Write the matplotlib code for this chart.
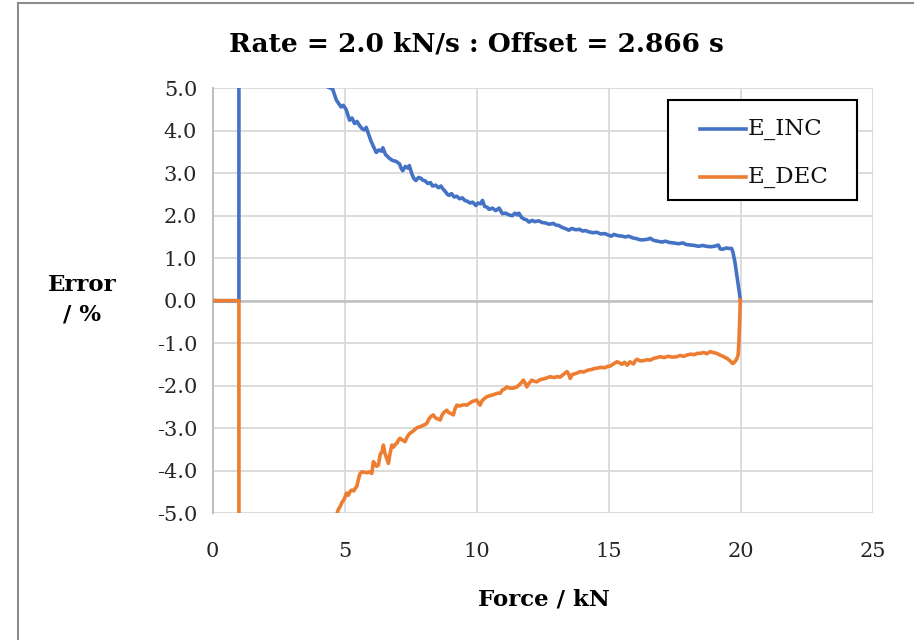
import matplotlib
matplotlib.use("Agg")
import matplotlib.pyplot as plt
from matplotlib.lines import Line2D
from matplotlib.patches import Rectangle

# ---- data ----
inc_force = [0.0, 1.0, 1.0, 2.0, 3.0, 4.0,
    4.37, 4.55, 4.62, 4.69, 4.78, 4.87, 4.95, 5.06, 5.12, 5.19, 5.28, 5.38, 5.47, 5.57,
    5.66, 5.75, 5.82, 5.88, 5.95, 6.00, 6.10, 6.20, 6.30, 6.40, 6.45, 6.55, 6.62, 6.70,
    6.82, 6.95, 7.08, 7.14, 7.20, 7.30, 7.40, 7.45, 7.55, 7.62, 7.70, 7.80, 7.90, 7.95,
    8.05, 8.15, 8.25, 8.33, 8.45, 8.55, 8.65, 8.71, 8.80, 8.90, 8.96, 9.05, 9.15, 9.25,
    9.35, 9.46, 9.55, 9.65, 9.75, 9.85, 9.97, 10.05, 10.15, 10.22, 10.30, 10.40, 10.47,
    10.60, 10.72, 10.85, 10.97, 11.10, 11.22, 11.35, 11.45, 11.55, 11.60, 11.70, 11.80,
    11.90, 11.98, 12.10, 12.20, 12.35, 12.48, 12.60, 12.75, 12.90, 13.00, 13.11, 13.25,
    13.35, 13.49, 13.60, 13.75, 13.90, 14.00, 14.12, 14.25, 14.40, 14.55, 14.70, 14.85,
    15.00, 15.10, 15.20, 15.35, 15.50, 15.63, 15.75, 15.90, 16.05, 16.15, 16.26, 16.40,
    16.50, 16.57, 16.70, 16.85, 17.01, 17.15, 17.30, 17.45, 17.64, 17.80, 17.95, 18.10,
    18.25, 18.40, 18.55, 18.70, 18.85, 19.00, 19.15, 19.22, 19.30, 19.45, 19.55, 19.65,
    19.70, 19.78, 19.85, 19.93, 19.98]
inc_error = [0.0, 0.0, 80.0, 11.5, 7.7, 5.8,
    5.03, 4.98, 4.85, 4.72, 4.64, 4.56, 4.60, 4.50, 4.38, 4.25, 4.30, 4.17, 4.22, 4.12,
    4.05, 4.02, 4.08, 3.97, 3.85, 3.76, 3.62, 3.49, 3.55, 3.52, 3.60, 3.44, 3.40, 3.35,
    3.30, 3.28, 3.22, 3.12, 3.06, 3.16, 3.12, 3.18, 2.98, 2.88, 2.83, 2.90, 2.88, 2.84,
    2.82, 2.76, 2.78, 2.70, 2.72, 2.66, 2.70, 2.64, 2.58, 2.50, 2.48, 2.52, 2.44, 2.46,
    2.40, 2.42, 2.36, 2.34, 2.30, 2.32, 2.24, 2.30, 2.28, 2.36, 2.22, 2.20, 2.15,
    2.18, 2.12, 2.18, 2.05, 2.06, 2.02, 2.00, 2.06, 2.02, 2.06, 1.96, 1.92,
    1.90, 1.85, 1.89, 1.86, 1.88, 1.84, 1.83, 1.80, 1.82, 1.78, 1.77, 1.72,
    1.70, 1.66, 1.70, 1.67, 1.68, 1.64, 1.65, 1.62, 1.60, 1.61, 1.57, 1.58,
    1.54, 1.52, 1.56, 1.53, 1.52, 1.50, 1.52, 1.48, 1.46, 1.44, 1.43, 1.44,
    1.45, 1.47, 1.42, 1.40, 1.38, 1.40, 1.37, 1.36, 1.34, 1.36, 1.32, 1.31,
    1.30, 1.28, 1.30, 1.28, 1.27, 1.28, 1.31, 1.22, 1.21, 1.24, 1.23, 1.23,
    1.15, 0.90, 0.60, 0.25, 0.04]

dec_force = [0.0, 1.0, 1.0, 2.0, 3.0, 4.0,
    4.70, 4.76, 4.83, 4.90, 4.98, 5.08, 5.15, 5.20, 5.27, 5.35, 5.40, 5.46, 5.52, 5.58,
    5.65, 5.75, 5.85, 5.95, 6.03, 6.09, 6.15, 6.22, 6.28, 6.35, 6.42, 6.47, 6.53, 6.60,
    6.66, 6.72, 6.79, 6.85, 6.92, 6.98, 7.04, 7.10, 7.18, 7.24, 7.29, 7.36, 7.42, 7.48,
    7.58, 7.68, 7.78, 7.86, 7.95, 8.04, 8.11, 8.20, 8.28, 8.36, 8.44, 8.52, 8.62, 8.70,
    8.78, 8.87, 8.95, 9.04, 9.12, 9.18, 9.25, 9.35, 9.45, 9.55, 9.63, 9.72, 9.82, 9.90,
    10.00, 10.06, 10.13, 10.20, 10.30, 10.39, 10.50, 10.60, 10.70, 10.77, 10.89, 10.98,
    11.06, 11.14, 11.25, 11.39, 11.52, 11.62, 11.70, 11.77, 11.85, 11.90, 11.98, 12.09,
    12.18, 12.28, 12.40, 12.55, 12.65, 12.78, 12.92, 13.05, 13.16, 13.28, 13.42, 13.48,
    13.54, 13.62, 13.72, 13.82, 13.92, 14.05, 14.20, 14.35, 14.45, 14.55, 14.70, 14.85,
    14.95, 15.06, 15.15, 15.23, 15.31, 15.40, 15.50, 15.60, 15.70, 15.80, 15.94, 16.00,
    16.07, 16.20, 16.35, 16.45, 16.57, 16.70, 16.82, 16.95, 17.10, 17.25, 17.40, 17.58,
    17.70, 17.85, 17.96, 18.10, 18.25, 18.35, 18.47, 18.60, 18.72, 18.84, 18.95, 19.08,
    19.22, 19.35, 19.48, 19.60, 19.69, 19.76, 19.84, 19.90, 19.93, 19.95, 19.97, 19.98]
dec_error = [0.0, 0.0, -80.0, -11.5, -7.7, -5.8,
    -5.04, -4.92, -4.85, -4.75, -4.68, -4.53, -4.58, -4.50, -4.46, -4.48, -4.42, -4.38, -4.22, -4.08,
    -4.03, -4.04, -4.05, -4.03, -4.07, -3.79, -3.85, -3.90, -3.87, -3.62, -3.55, -3.40, -3.60, -3.72,
    -3.83, -3.60, -3.40, -3.45, -3.38, -3.36, -3.28, -3.24, -3.28, -3.30, -3.32, -3.22, -3.16, -3.12,
    -3.08, -3.02, -2.98, -2.97, -2.94, -2.92, -2.89, -2.78, -2.72, -2.69, -2.76, -2.78, -2.81, -2.68,
    -2.62, -2.58, -2.64, -2.66, -2.69, -2.55, -2.46, -2.48, -2.46, -2.45, -2.46, -2.42, -2.38, -2.36,
    -2.34, -2.40, -2.46, -2.36, -2.30, -2.26, -2.24, -2.22, -2.20, -2.18, -2.18, -2.10,
    -2.08, -2.03, -2.06, -2.06, -2.03, -1.98, -1.92, -1.87, -1.96, -2.03, -1.95, -1.87,
    -1.90, -1.91, -1.86, -1.84, -1.82, -1.79, -1.81, -1.79, -1.80, -1.74, -1.67, -1.72,
    -1.83, -1.74, -1.72, -1.70, -1.67, -1.68, -1.64, -1.62, -1.60, -1.59, -1.57, -1.58,
    -1.55, -1.54, -1.50, -1.47, -1.44, -1.46, -1.50, -1.45, -1.52, -1.44, -1.49, -1.42,
    -1.38, -1.42, -1.41, -1.39, -1.40, -1.36, -1.34, -1.32, -1.34, -1.31, -1.33, -1.32,
    -1.29, -1.31, -1.28, -1.26, -1.27, -1.24, -1.24, -1.22, -1.25, -1.20, -1.22, -1.24,
    -1.28, -1.32, -1.36, -1.42, -1.48, -1.45, -1.38, -1.28, -0.95, -0.60, -0.25, 0.02]

x_ticks = [0, 5, 10, 15, 20, 25]
y_ticks = [-5.0, -4.0, -3.0, -2.0, -1.0, 0.0, 1.0, 2.0, 3.0, 4.0, 5.0]
title = "Rate = 2.0 kN/s : Offset = 2.866 s"
series_names = ["E_INC", "E_DEC"]

# ---- drawing ----
FONT = ["DejaVu Serif Condensed", "DejaVu Serif"]
plt.rcParams["font.family"] = FONT

W, H = 914, 640
fig = plt.figure(figsize=(W / 100, H / 100), dpi=100)
ax = fig.add_axes([0.2325, 0.1984, 0.7225, 0.6636])

blue = "#4472C4"
orange = "#ED7D31"
colors = [blue, orange]
ax.plot(inc_force, inc_error, color=blue, lw=2.6, label=series_names[0], zorder=3,
        solid_joinstyle="round")
ax.plot(dec_force, dec_error, color=orange, lw=2.6, label=series_names[1], zorder=4,
        solid_joinstyle="round")

ax.set_xlim(0, 25)
ax.set_ylim(-5, 5)
ax.set_xticks(x_ticks)
ax.set_yticks(y_ticks)
ax.set_xticklabels([str(t) for t in x_ticks])
ax.set_yticklabels(["%.1f" % t for t in y_ticks])
ax.tick_params(length=0, labelsize=15, colors="#262626")
ax.tick_params(axis="y", pad=11)
ax.tick_params(axis="x", pad=21)

ax.grid(True, color="#D9D9D9", lw=1.3, zorder=0)
ax.set_axisbelow(True)
for s in ["top", "right", "bottom"]:
    ax.spines[s].set_visible(False)
ax.spines["left"].set_color("#BFBFBF")
ax.spines["left"].set_linewidth(1.5)
ax.axhline(0, color="#BFBFBF", lw=1.8, zorder=1)

fig.text(0.5215, 0.931, title, ha="center", va="center", fontsize=19,
         fontweight="bold", color="black")
fig.text(544 / W, 1 - 600 / H, "Force / kN", ha="center", va="center", fontsize=16.5,
         fontweight="bold")
fig.text(82 / W, 1 - 300 / H, "Error\n/ %", ha="center", va="center", fontsize=16.5,
         fontweight="bold", linespacing=1.45)

# legend box (drawn in figure pixel positions)
def fx(px):
    return px / W

def fy(py):
    return 1 - py / H

fig.add_artist(Rectangle((fx(668), fy(200)), fx(857) - fx(668), fy(100) - fy(200),
                         transform=fig.transFigure, facecolor="white",
                         edgecolor="black", lw=1.5, zorder=10))
for i, (name, c) in enumerate(zip(series_names, colors)):
    yy = 129 + 48 * i
    fig.add_artist(Line2D([fx(700), fx(746)], [fy(yy), fy(yy)], color=c, lw=2.6,
                          transform=fig.transFigure, zorder=11))
    fig.text(fx(748), fy(yy), name, ha="left", va="center", fontsize=16.5,
             color="#111111", zorder=12)

# outer chart border (left and top visible)
fig.add_artist(Line2D([fx(17.5), fx(17.5)], [0, fy(3)], color="#8C8C8C",
                      lw=1.5, transform=fig.transFigure))
fig.add_artist(Line2D([fx(17.5), 1], [fy(3), fy(3)], color="#8C8C8C",
                      lw=1.5, transform=fig.transFigure))

fig.savefig("out.png", dpi=100)
